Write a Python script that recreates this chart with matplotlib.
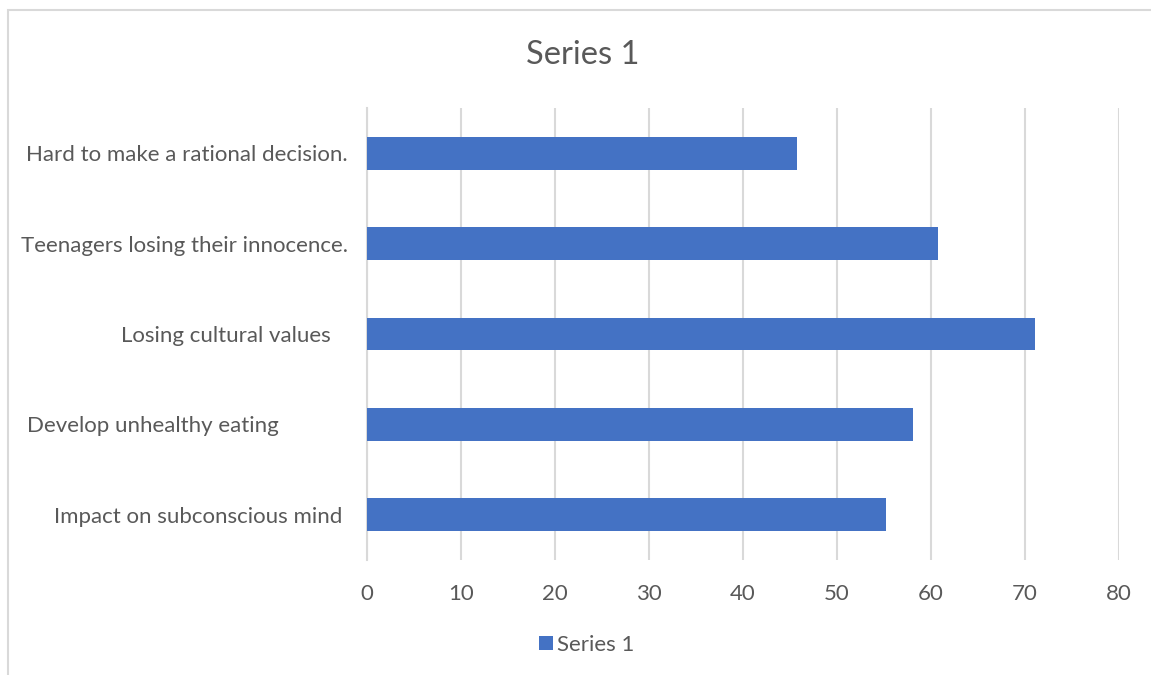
"""Horizontal bar chart: Series 1"""
import matplotlib
matplotlib.use('Agg')
from matplotlib import pyplot as plt
from matplotlib.patches import Rectangle

# data, listed bottom to top
categories = ['Impact on subconscious mind ',
              'Develop unhealthy eating            ',
              'Losing cultural values   ',
              'Teenagers losing their innocence.',
              'Hard to make a rational decision.']
values = [55.2, 58.1, 71.1, 60.8, 45.8]
xticks = [0, 10, 20, 30, 40, 50, 60, 70, 80]

plt.rcParams['font.family'] = ['Lato', 'DejaVu Sans']
text_color = '#595959'
grid_color = '#d9d9d9'
bar_color = '#4472c4'

W, H = 1151, 675
fig = plt.figure(figsize=(W / 100, H / 100), dpi=100)
ax = fig.add_axes([366.7 / W, 1 - 560 / H, (1118.7 - 366.7) / W, (560 - 108) / H])

ax.barh(range(len(categories)), values, height=0.365, color=bar_color,
        label='Series 1', zorder=3)
ax.set_xlim(0, 80)
ax.set_ylim(-0.5, len(categories) - 0.5)
ax.set_xticks(xticks)
ax.set_yticks(range(len(categories)))
ax.set_yticklabels(categories)

ax.grid(axis='x', color=grid_color, linewidth=1.5, zorder=0)
for side in ['top', 'right', 'bottom']:
    ax.spines[side].set_visible(False)
ax.spines['left'].set_color(grid_color)
ax.spines['left'].set_linewidth(1.5)
ax.tick_params(axis='both', length=0, labelsize=16, colors=text_color)
ax.tick_params(axis='x', pad=17)
ax.tick_params(axis='y', pad=13.5)

fig.text(583 / W, 1 - 55 / H, 'Series 1', ha='center', va='center',
         fontsize=23.5, color=text_color)

fig.legend(loc='center', bbox_to_anchor=(587 / W, 1 - 645 / H), frameon=False,
           fontsize=16, labelcolor=text_color, handlelength=0.6,
           handleheight=0.6, handletextpad=0.2)

# outer chart border
fig.patches.append(Rectangle((8 / W, -0.05), 1.1, (H - 10) / H + 0.05,
                             transform=fig.transFigure, fill=False,
                             edgecolor=grid_color, linewidth=1.5))

fig.savefig('out.png', dpi=100)
